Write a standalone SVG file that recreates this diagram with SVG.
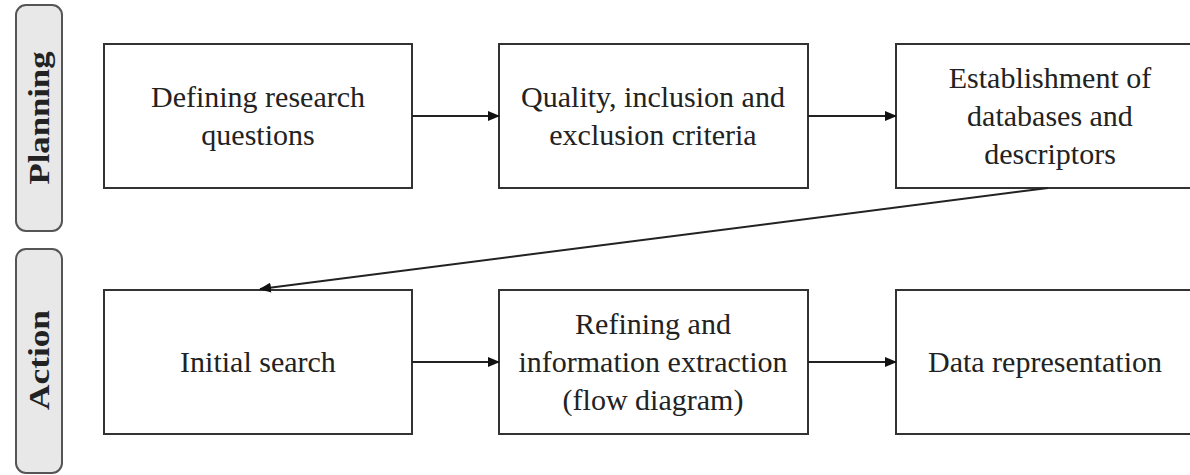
<svg xmlns="http://www.w3.org/2000/svg" width="1190" height="475" viewBox="0 0 1190 475">
<style>
.pill{fill:#e8e8e8;stroke:#555;stroke-width:2}
.box{fill:#fff;stroke:#333;stroke-width:2}
.t{font-family:"Liberation Serif","Times New Roman",serif;font-size:30px;fill:#222;text-anchor:middle}
.lbl{font-family:"Liberation Serif","Times New Roman",serif;font-size:29px;font-weight:bold;fill:#222;text-anchor:middle}
.conn{stroke:#222;stroke-width:2;fill:none;marker-end:url(#ah)}
</style>
<defs>
<marker id="ah" markerWidth="12" markerHeight="10" refX="11" refY="5" orient="auto" markerUnits="userSpaceOnUse">
<path d="M0,0 L12,5 L0,10 Z" fill="#111"/>
</marker>
</defs>
<rect width="1190" height="475" fill="#fff"/>
<g id="lane-planning">
<rect class="pill" x="16" y="5" width="46" height="226" rx="10"/>
<text class="lbl" transform="translate(49,118) rotate(-90)" textLength="133" lengthAdjust="spacingAndGlyphs">Planning</text>
</g>
<g id="lane-action">
<rect class="pill" x="16" y="249" width="46" height="224" rx="10"/>
<text class="lbl" transform="translate(49,360) rotate(-90)" textLength="100" lengthAdjust="spacingAndGlyphs">Action</text>
</g>
<g id="n1">
<rect class="box" x="104" y="44" width="308" height="144"/>
<text class="t" x="258" y="107">Defining research</text>
<text class="t" x="258" y="145">questions</text>
</g>
<g id="n2">
<rect class="box" x="499" y="44" width="309" height="144"/>
<text class="t" x="653" y="107">Quality, inclusion and</text>
<text class="t" x="653" y="145">exclusion criteria</text>
</g>
<g id="n3">
<rect class="box" x="896" y="44" width="304" height="144"/>
<text class="t" x="1050" y="88">Establishment of</text>
<text class="t" x="1050" y="126">databases and</text>
<text class="t" x="1050" y="164">descriptors</text>
</g>
<g id="n4">
<rect class="box" x="104" y="290" width="308" height="144"/>
<text class="t" x="258" y="372">Initial search</text>
</g>
<g id="n5">
<rect class="box" x="499" y="290" width="309" height="144"/>
<text class="t" x="653" y="334">Refining and</text>
<text class="t" x="653" y="372">information extraction</text>
<text class="t" x="653" y="410">(flow diagram)</text>
</g>
<g id="n6">
<rect class="box" x="896" y="290" width="304" height="144"/>
<text class="t" x="1045" y="372">Data representation</text>
</g>
<g id="connectors">
<line class="conn" x1="412" y1="116" x2="499" y2="116"/>
<line class="conn" x1="808" y1="116" x2="896" y2="116"/>
<line class="conn" x1="1048" y1="188" x2="260" y2="289"/>
<line class="conn" x1="412" y1="362" x2="499" y2="362"/>
<line class="conn" x1="808" y1="362" x2="896" y2="362"/>
</g>
</svg>
